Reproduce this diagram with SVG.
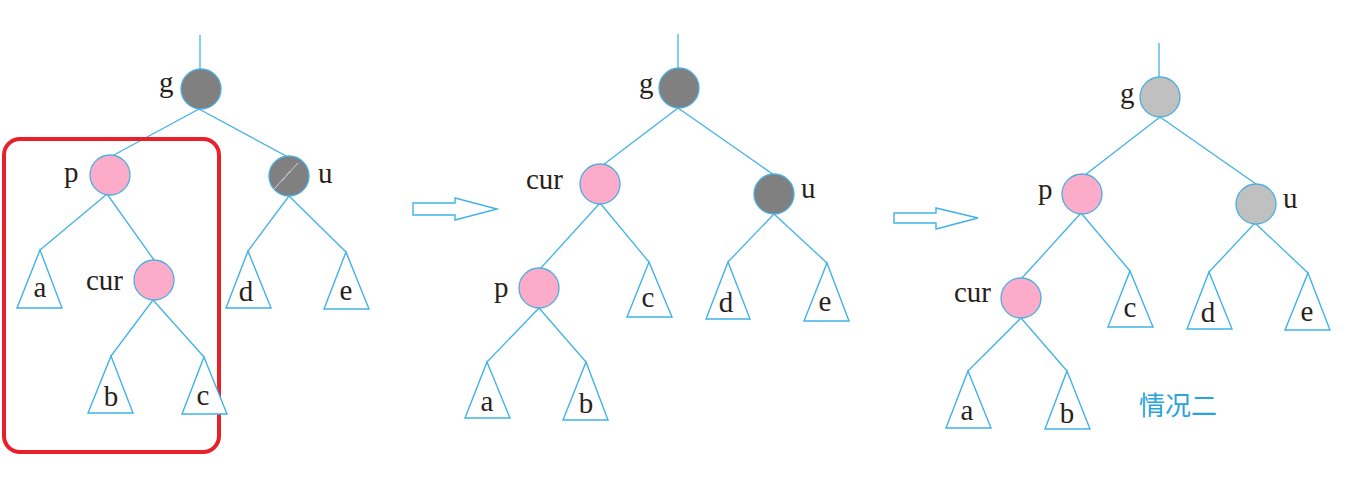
<svg xmlns="http://www.w3.org/2000/svg" width="1368" height="479" viewBox="0 0 1368 479">
<style>
.e{stroke:#41b2e6;stroke-width:1.3;fill:none}
.t{stroke:#41b2e6;stroke-width:1.4;fill:#fff}
.n{stroke:#4aaee0;stroke-width:1.3}
.red{fill:#fcabc8}
.dk{fill:#808080}
.lt{fill:#c0c0c0}
.l{font-family:"Liberation Serif","DejaVu Serif",serif;font-size:29px;fill:#2a1f1a}
.m{text-anchor:middle}
.ar{fill:#fff;stroke:#41b2e6;stroke-width:1.4}
</style>
<rect width="1368" height="479" fill="#fff"/>
<g id="connectors">
<!-- tree 1 -->
<line class="e" x1="200" y1="35" x2="200" y2="70"/>
<line class="e" x1="199" y1="109" x2="112" y2="156"/>
<line class="e" x1="199" y1="109" x2="288" y2="157"/>
<line class="e" x1="107" y1="194" x2="40" y2="250"/>
<line class="e" x1="107" y1="194" x2="154" y2="260"/>
<line class="e" x1="153" y1="300" x2="111" y2="356"/>
<line class="e" x1="153" y1="300" x2="204" y2="357"/>
<line class="e" x1="289" y1="196" x2="248" y2="251"/>
<line class="e" x1="289" y1="196" x2="346" y2="252"/>
<!-- tree 2 -->
<line class="e" x1="678" y1="34" x2="678" y2="69"/>
<line class="e" x1="678" y1="108" x2="603" y2="165"/>
<line class="e" x1="678" y1="108" x2="774" y2="175"/>
<line class="e" x1="600" y1="203" x2="540" y2="269"/>
<line class="e" x1="600" y1="203" x2="649" y2="262"/>
<line class="e" x1="774" y1="214" x2="728" y2="262"/>
<line class="e" x1="774" y1="214" x2="827" y2="263"/>
<line class="e" x1="539" y1="308" x2="487" y2="362"/>
<line class="e" x1="539" y1="308" x2="586" y2="362"/>
<!-- tree 3 -->
<line class="e" x1="1159" y1="43" x2="1159" y2="78"/>
<line class="e" x1="1160" y1="117" x2="1085" y2="175"/>
<line class="e" x1="1160" y1="117" x2="1256" y2="184"/>
<line class="e" x1="1081" y1="213" x2="1022" y2="278"/>
<line class="e" x1="1081" y1="213" x2="1130" y2="271"/>
<line class="e" x1="1255" y1="223" x2="1209" y2="272"/>
<line class="e" x1="1255" y1="223" x2="1308" y2="273"/>
<line class="e" x1="1021" y1="318" x2="968" y2="371"/>
<line class="e" x1="1021" y1="318" x2="1067" y2="371"/>
</g>
<g id="highlight">
<rect x="4" y="139" width="215" height="313" rx="16" ry="16" fill="none" stroke="#e8202a" stroke-width="4"/>
</g>
<g id="arrows">
<path class="ar" d="M413,203 H455 V198 L497,209 L455,220 V215 H413 Z"/>
<path class="ar" d="M894,213 H936 V208 L978,218 L936,229 V223 H894 Z"/>
</g>
<!-- tree 1 nodes -->
<g id="t1-g"><circle class="n dk" cx="201" cy="89" r="20"/><text class="l" x="159" y="92">g</text></g>
<g id="t1-p"><circle class="n red" cx="110" cy="175" r="20"/><text class="l" x="64" y="182">p</text></g>
<g id="t1-u"><circle class="n dk" cx="289" cy="176" r="20"/>
<line x1="274" y1="189" x2="298" y2="163" stroke="#c8d4dc" stroke-width="1"/>
<line x1="282" y1="181" x2="290" y2="171" stroke="#c8d4dc" stroke-width="0.8"/>
<text class="l" x="318" y="183">u</text></g>
<g id="t1-cur"><circle class="n red" cx="154" cy="280" r="20"/><text class="l" x="86" y="290">cur</text></g>
<g id="t1-a"><polygon class="t" points="40,250 62,308 17,308"/><text class="l m" x="40" y="297">a</text></g>
<g id="t1-b"><polygon class="t" points="111,356 133,413 88,413"/><text class="l m" x="111" y="406">b</text></g>
<g id="t1-c"><polygon class="t" points="204,357 227,414 182,414"/><text class="l m" x="203" y="405">c</text></g>
<g id="t1-d"><polygon class="t" points="248,251 271,308 226,308"/><text class="l m" x="246" y="301">d</text></g>
<g id="t1-e"><polygon class="t" points="346,252 369,309 324,309"/><text class="l m" x="346" y="300">e</text></g>
<!-- tree 2 nodes -->
<g id="t2-g"><circle class="n dk" cx="679" cy="88" r="20"/><text class="l" x="639" y="93">g</text></g>
<g id="t2-cur"><circle class="n red" cx="600" cy="184" r="20"/><text class="l" x="526" y="189">cur</text></g>
<g id="t2-u"><circle class="n dk" cx="774" cy="194" r="20"/><text class="l" x="801" y="198">u</text></g>
<g id="t2-p"><circle class="n red" cx="539" cy="288" r="20"/><text class="l" x="494" y="297">p</text></g>
<g id="t2-c"><polygon class="t" points="649,262 672,317 627,317"/><text class="l m" x="648" y="307">c</text></g>
<g id="t2-d"><polygon class="t" points="728,262 750,319 706,319"/><text class="l m" x="726" y="312">d</text></g>
<g id="t2-e"><polygon class="t" points="827,263 849,321 804,321"/><text class="l m" x="825" y="311">e</text></g>
<g id="t2-a"><polygon class="t" points="487,362 510,418 465,418"/><text class="l m" x="487" y="411">a</text></g>
<g id="t2-b"><polygon class="t" points="586,362 608,420 563,420"/><text class="l m" x="586" y="413">b</text></g>
<!-- tree 3 nodes -->
<g id="t3-g"><circle class="n lt" cx="1160" cy="97" r="20"/><text class="l" x="1120" y="103">g</text></g>
<g id="t3-p"><circle class="n red" cx="1082" cy="194" r="20"/><text class="l" x="1038" y="199">p</text></g>
<g id="t3-u"><circle class="n lt" cx="1256" cy="204" r="20"/><text class="l" x="1283" y="208">u</text></g>
<g id="t3-cur"><circle class="n red" cx="1021" cy="298" r="20"/><text class="l" x="954" y="302">cur</text></g>
<g id="t3-c"><polygon class="t" points="1130,271 1153,327 1108,327"/><text class="l m" x="1130" y="317">c</text></g>
<g id="t3-d"><polygon class="t" points="1209,272 1232,329 1187,329"/><text class="l m" x="1208" y="322">d</text></g>
<g id="t3-e"><polygon class="t" points="1308,273 1330,330 1285,330"/><text class="l m" x="1307" y="321">e</text></g>
<g id="t3-a"><polygon class="t" points="968,371 991,428 946,428"/><text class="l m" x="967" y="420">a</text></g>
<g id="t3-b"><polygon class="t" points="1067,371 1090,429 1045,429"/><text class="l m" x="1067" y="423">b</text></g>
<g id="caption"><text x="1139" y="415" font-family="'Noto Sans CJK SC',sans-serif" font-size="26" fill="#2aa3e0">情况二</text></g>
</svg>
